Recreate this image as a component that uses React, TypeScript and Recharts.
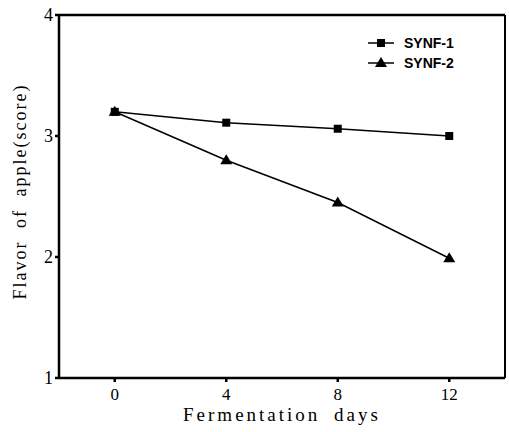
import { LineChart, Line, XAxis, YAxis, ReferenceLine } from 'recharts';

// Fermentation days and flavor scores
const days = [0, 4, 8, 12];
const synf1 = [3.2, 3.11, 3.06, 3.0];
const synf2 = [3.2, 2.8, 2.45, 1.99];
const seriesNames = ['SYNF-1', 'SYNF-2'];
const xTicks = [0, 4, 8, 12];
const yTicks = [1, 2, 3, 4];

const data = days.map((d, i) => ({ day: d, synf1: synf1[i], synf2: synf2[i] }));

const SERIF = '"Liberation Serif", "Times New Roman", serif';
const SANS = '"Liberation Sans", Arial, sans-serif';

const SquareDot = (props: any) => {
    const { cx, cy } = props;
    if (cx == null || cy == null) return null;
    return <rect x={cx - 4} y={cy - 4} width={8} height={8} fill="#000" />;
};

const TriangleDot = (props: any) => {
    const { cx, cy } = props;
    if (cx == null || cy == null) return null;
    return <path d={`M${cx},${cy - 6} L${cx + 6},${cy + 4} L${cx - 6},${cy + 4} Z`} fill="#000" />;
};

// legend drawn as an overlay so it doesn't eat into the plot area
const LegendBox = () => (
    <div style={{ position: 'absolute', top: 33, left: 368, fontFamily: SANS, fontWeight: 700, fontSize: 14, color: '#000' }}>
        {seriesNames.map((name, i) => (
            <div key={name} style={{ display: 'flex', alignItems: 'center', height: 20 }}>
                <svg width={30} height={14} style={{ marginRight: 6 }}>
                    <line x1={0} y1={7} x2={26} y2={7} stroke="#000" strokeWidth={1.5} />
                    {i === 0 ? (
                        <rect x={9} y={3} width={8} height={8} fill="#000" />
                    ) : (
                        <path d="M13,1 L19,11 L7,11 Z" fill="#000" />
                    )}
                </svg>
                <span>{name}</span>
            </div>
        ))}
    </div>
);

export default function App() {
    return (
        <div style={{ position: 'absolute', left: 0, top: 0, width: 509, height: 432, background: '#fff' }}>
            <LineChart width={509} height={432} data={data} margin={{ top: 15, right: 4, left: 0, bottom: 24 }}>
                <XAxis
                    dataKey="day"
                    type="number"
                    domain={[-2, 14]}
                    ticks={xTicks}
                    allowDataOverflow
                    height={30}
                    stroke="#000"
                    strokeWidth={2.5}
                    tickSize={4}
                    tickMargin={6}
                    tick={{ fill: '#000', fontSize: 17, fontFamily: SERIF }}
                    label={{
                        value: 'Fermentation days',
                        position: 'bottom',
                        offset: 0,
                        style: { fill: '#000', fontSize: 19, fontFamily: SERIF, letterSpacing: 3, wordSpacing: 6 },
                    }}
                />
                <YAxis
                    type="number"
                    domain={[1, 4]}
                    ticks={yTicks}
                    width={59}
                    stroke="#000"
                    strokeWidth={2.5}
                    tickSize={4}
                    tick={{ fill: '#000', fontSize: 18, fontFamily: SERIF }}
                    label={{
                        value: 'Flavor of apple(score)',
                        angle: -90,
                        position: 'insideLeft',
                        offset: 20,
                        dy: -5,
                        style: { fill: '#000', fontSize: 18, fontFamily: SERIF, letterSpacing: 2, wordSpacing: 6, textAnchor: 'middle' },
                    }}
                />
                <ReferenceLine y={4} stroke="#000" strokeWidth={2.5} />
                <ReferenceLine x={14} stroke="#000" strokeWidth={2} />
                <Line
                    type="linear"
                    dataKey="synf1"
                    name={seriesNames[0]}
                    stroke="#000"
                    strokeWidth={1.5}
                    dot={<SquareDot />}
                    isAnimationActive={false}
                />
                <Line
                    type="linear"
                    dataKey="synf2"
                    name={seriesNames[1]}
                    stroke="#000"
                    strokeWidth={1.5}
                    dot={<TriangleDot />}
                    isAnimationActive={false}
                />
            </LineChart>
            <LegendBox />
        </div>
    );
}
